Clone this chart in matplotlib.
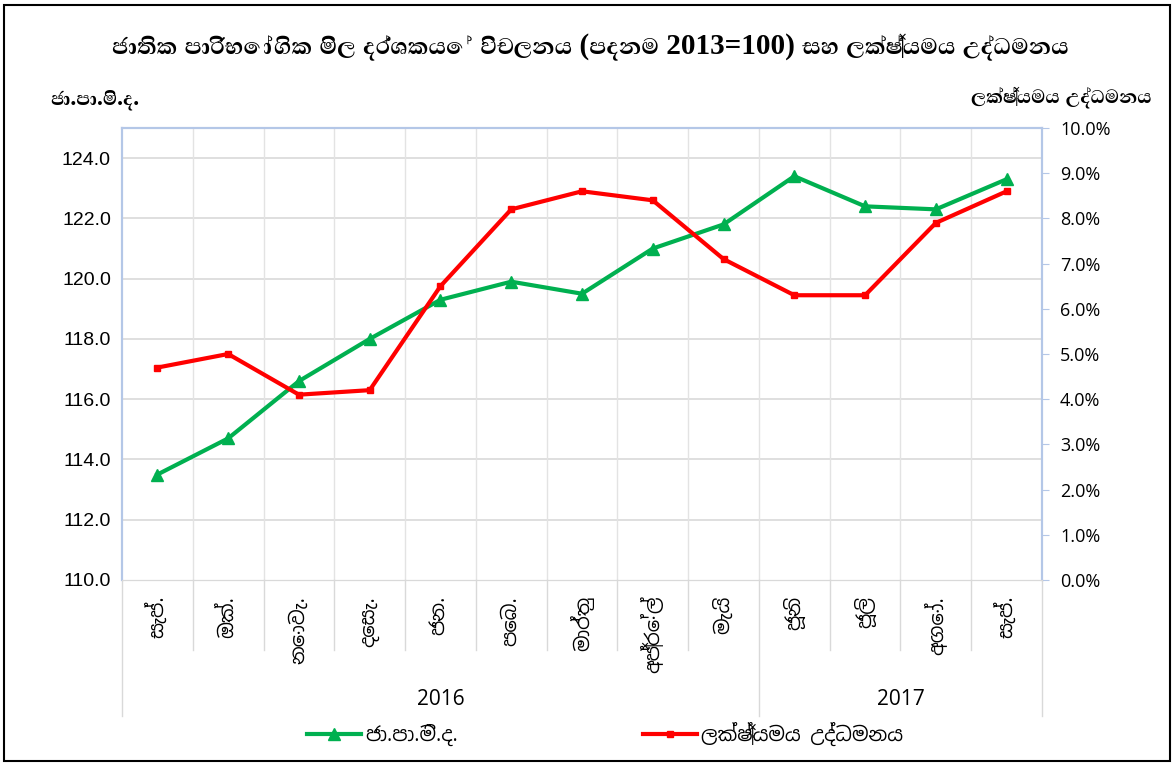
import matplotlib
matplotlib.use("Agg")
import numpy as np
import matplotlib.pyplot as plt
from matplotlib.lines import Line2D
from matplotlib.ticker import FuncFormatter

# Data
months = ['සැප්.', 'ඔක්.', 'නොවැ.', 'දෙසැ.', 'ජන.', 'පෙබ.', 'මාර්තු',
          'අප්‍රේල්', 'මැයි', 'ජූනි', 'ජූලි', 'අගෝ.', 'සැප්.']
years = ['2016', '2017']
year_start = [0, 9]          # index of first month in each year
cpi = [113.5, 114.7, 116.6, 118.0, 119.3, 119.9, 119.5, 121.0, 121.8,
       123.4, 122.4, 122.3, 123.3]
inflation = [4.7, 5.0, 4.1, 4.2, 6.5, 8.2, 8.6, 8.4, 7.1, 6.3, 6.3, 7.9, 8.6]

title = 'ජාතික පාරිභෝගික මිල දර්ශකයේ විචලනය (පදනම 2013=100) සහ ලක්ෂ්‍යමය උද්ධමනය'
left_name = 'ජා.පා.මි.ද.'
right_name = 'ලක්ෂ්‍යමය උද්ධමනය'

SIN = ['Noto Sans Sinhala', 'DejaVu Sans']
# latin digits from Liberation Serif, Sinhala glyphs fall through to Abhaya Libre
SIN_BOLD = ['Liberation Serif', 'Abhaya Libre', 'Noto Serif Sinhala']
GREEN = '#00b050'
RED = '#ff0000'
AXBLUE = '#b4c7e7'

fig = plt.figure(figsize=(11.75, 7.64), dpi=100)
W, H = 1175, 764
ax = fig.add_axes([122 / W, (H - 580) / H, 920 / W, 452 / H])
ax2 = ax.twinx()

x = np.arange(len(months))
ax.plot(x, cpi, color=GREEN, lw=3, marker='^', ms=8, zorder=3)
ax2.plot(x, inflation, color=RED, lw=3, marker='s', ms=5, zorder=3)

ax.set_xlim(-0.5, len(months) - 0.5)
ax.set_ylim(110, 125)
ax.set_yticks(np.arange(110, 125, 2))
ax.yaxis.set_major_formatter(FuncFormatter(lambda v, p: f'{v:.1f}'))
ax2.set_ylim(0, 10)
ax2.set_yticks(np.arange(0, 11, 1))
ax2.yaxis.set_major_formatter(FuncFormatter(lambda v, p: f'{v:.1f}%'))

for lab in ax.get_yticklabels():
    lab.set_fontfamily('Liberation Sans')
    lab.set_fontsize(14)
for lab in ax2.get_yticklabels():
    lab.set_fontfamily('Open Sans')
    lab.set_fontsize(13)

ax.tick_params(axis='y', length=0, pad=8)
ax2.tick_params(axis='y', length=5, color=AXBLUE, pad=8)
ax.set_xticks([])

# grid
for v in np.arange(112, 125, 2):
    ax.axhline(v, color='#d9d9d9', lw=1.2, zorder=0)
for i in range(1, len(months)):
    ax.axvline(i - 0.5, color='#e3e3e3', lw=1, zorder=0)

for s in ['left', 'top', 'right']:
    ax.spines[s].set_color(AXBLUE)
    ax2.spines[s].set_color(AXBLUE)
    ax.spines[s].set_linewidth(1.5)
    ax2.spines[s].set_linewidth(1.5)
ax.spines['bottom'].set_color('#d9d9d9')
ax2.spines['bottom'].set_color('#d9d9d9')

# category labels and separators below the plot
trans = ax.get_xaxis_transform()
for i, m in enumerate(months):
    ax.text(i, -0.035, m, transform=trans, rotation=90, ha='center', va='top',
            fontsize=14, family=SIN)
for i in range(len(months) + 1):
    long = (i == 0) or (i == len(months)) or (i in year_start)
    ax.plot([i - 0.5, i - 0.5], [0, -0.30 if long else -0.155], transform=trans,
            color='#d9d9d9', lw=1, clip_on=False)
bounds = year_start + [len(months)]
for k, yv in enumerate(years):
    mid = (bounds[k] + bounds[k + 1] - 1) / 2
    ax.text(mid, -0.265, yv, transform=trans, ha='center', va='center',
            fontsize=15, family='Open Sans')

# titles
fig.text(590 / W, 1 - 47 / H, title, ha='center', va='center', fontsize=21,
         fontweight='bold', family=SIN_BOLD)
fig.text(50 / W, 1 - 99 / H, left_name, ha='left', va='center', fontsize=17,
         fontweight='bold', family=SIN_BOLD)
fig.text(1152 / W, 1 - 97 / H, right_name, ha='right', va='center', fontsize=17,
         fontweight='bold', family=SIN_BOLD)

# legend
handles = [Line2D([], [], color=GREEN, lw=3, marker='^', ms=8),
           Line2D([], [], color=RED, lw=3, marker='s', ms=5)]
leg = fig.legend(handles, [left_name, right_name], loc='center',
                 bbox_to_anchor=(605 / W, 1 - 734 / H), ncol=2, frameon=False,
                 prop={'family': SIN, 'size': 14}, columnspacing=9.5,
                 handlelength=2.8, handletextpad=0.2)

# outer border
fig.patches.append(plt.Rectangle((4 / W, 3 / H), 1166 / W, 756 / H,
                                 transform=fig.transFigure, fill=False,
                                 edgecolor='black', lw=1.5))

fig.savefig('out.png', dpi=100)
